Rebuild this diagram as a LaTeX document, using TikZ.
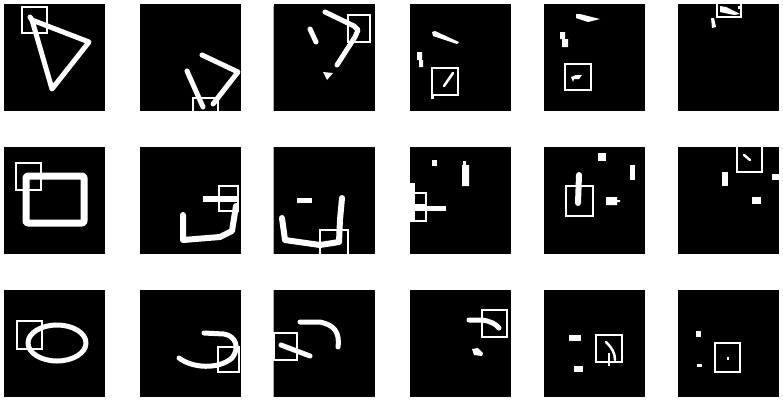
\documentclass[tikz,border=0pt]{standalone}
\tikzset{
  panel/.style={fill=black},
  pen/.style={draw=white,line width=5pt,line cap=round,line join=round},
  thinpen/.style={draw=white,line width=2.5pt,line cap=round,line join=round},
  roi/.style={draw=white,line width=1.2pt},
  edge/.style={draw=gray!60,line width=0.6pt},
}
\begin{document}
\begin{tikzpicture}[x=1pt,y=-1pt]
\useasboundingbox[fill=white] (0,0) rectangle (783,400);
\foreach \c in {4,140,274,410,544,678}
  \foreach \r in {4,147,290}
    \fill[panel] (\c,\r) rectangle ++(101,107);

\begin{scope}[shift={(4,4)}]
\draw[pen] (26,13) -- (28,16) -- (85,38) -- (48,85) -- (28,16);
\draw[roi] (18,3) rectangle (43,29);
\end{scope}

\begin{scope}[shift={(140,4)}]
\draw[pen] (62,51) -- (98,68) -- (73,100);
\draw[pen] (47,67) -- (63,103);
\draw[roi] (53,107) |- (78,94) -- (78,107);
\end{scope}

\begin{scope}[shift={(274,4)}]
\draw[edge] (-1,2) -- (-1,107);
\draw[pen] (51,8) -- (80,22) -- (84,26) -- (81,33) -- (63,61);
\draw[pen] (36,25) -- (42,38);
\fill[white] (49,68) -- (59,69) -- (53,76) -- cycle;
\draw[roi] (74,11) rectangle (96,38);
\end{scope}

\begin{scope}[shift={(410,4)}]
\fill[white] (22,28) -- (25,27) -- (49,38) -- (47,40) -- (23,32) -- cycle;
\fill[white] (7,48) rectangle (12,56) (9,56) rectangle (13,63);
\draw[roi] (22,64) rectangle (48,91);
\draw[thinpen] (34,82) -- (43,69);
\fill[white] (21,92) rectangle (24,95);
\end{scope}

\begin{scope}[shift={(544,4)}]
\fill[white] (32,10) -- (36,10) -- (56,15) -- (44,18) -- (32,14) -- cycle;
\fill[white] (16,28) rectangle (21,35) (18,35) rectangle (24,43);
\draw[roi] (21,60) rectangle (47,86);
\fill[white] (27,73) -- (32,71) -- (38,71) -- (35,75) -- (30,75) -- (29,78) -- cycle;
\end{scope}

\begin{scope}[shift={(678,4)}]
\draw[roi] (39,0) -- (39,13) -- (63,13) -- (63,0);
\fill[white] (42,2) -- (48,3) -- (62,10) -- (56,11) -- (42,8) -- cycle;
\fill[white] (60,2) rectangle (63,5);
\fill[white] (33,14) -- (36,14) -- (38,23) -- (34,24) -- cycle;
\end{scope}

\begin{scope}[shift={(4,147)}]
\draw[pen,line width=7pt,rounded corners=2pt] (22,29) rectangle (80,76);
\draw[roi] (12,16) rectangle (37,43);
\end{scope}

\begin{scope}[shift={(140,147)}]
\draw[pen,line width=6pt] (43,68) -- (43,93) -- (80,90) -- (92,84) -- (96,59);
\fill[white] (63,49) rectangle (99,55);
\draw[roi] (79,39) rectangle (98,64);
\end{scope}

\begin{scope}[shift={(274,147)}]
\draw[edge] (-1,0) -- (-1,107);
\draw[pen,line width=6pt] (8,71) -- (11,93) -- (46,98) -- (65,95) -- (66,73) -- (68,51);
\fill[white] (23,51) rectangle (38,56);
\draw[roi] (46,107) |- (74,83) -- (74,107);
\end{scope}

\begin{scope}[shift={(410,147)}]
\fill[white] (22,13) rectangle (27,19);
\fill[white] (52,18) rectangle (59,39) (53,14) rectangle (56,18);
\fill[white] (0,36) rectangle (5,73);
\fill[white] (5,59) rectangle (36,64);
\draw[roi] (0,46) rectangle (16,58);
\draw[roi] (0,63) rectangle (16,74);
\end{scope}

\begin{scope}[shift={(544,147)}]
\fill[white] (54,6) rectangle (62,14);
\fill[white] (86,18) rectangle (91,33);
\draw[pen,line width=6pt] (35,28) -- (34,56);
\draw[roi] (22,39) rectangle (49,69);
\fill[white] (62,50) rectangle (73,58) (73,53) rectangle (76,55);
\end{scope}

\begin{scope}[shift={(678,147)}]
\draw[roi] (59,0) -- (59,25) -- (84,25) -- (84,0);
\draw[thinpen] (66,8) -- (72,13);
\fill[white] (44,25) rectangle (50,39);
\fill[white] (94,27) rectangle (101,33);
\fill[white] (74,50) rectangle (83,57);
\end{scope}

\begin{scope}[shift={(4,290)}]
\draw[pen] (53,53) ellipse (29 and 18);
\draw[roi] (13,31) rectangle (38,59);
\end{scope}

\begin{scope}[shift={(140,290)}]
\draw[pen] (39,68) .. controls (52,78) and (78,80) .. (92,68) .. controls (100,58) and (96,46) .. (84,44) -- (64,43);
\draw[roi] (78,57) rectangle (99,82);
\end{scope}

\begin{scope}[shift={(274,290)}]
\draw[edge] (-1,0) -- (-1,107);
\draw[pen] (26,32) -- (46,32) .. controls (60,35) and (66,42) .. (64,57);
\draw[pen] (7,55) -- (36,66);
\draw[roi] (0,43) rectangle (23,70);
\end{scope}

\begin{scope}[shift={(410,290)}]
\draw[pen] (59,30) -- (72,30) .. controls (80,31) and (86,34) .. (89,38);
\draw[roi] (72,20) rectangle (97,47);
\fill[white] (62,59) -- (68,58) -- (73,63) -- (72,66) -- (64,65) -- cycle;
\end{scope}

\begin{scope}[shift={(544,290)}]
\fill[white] (25,45) rectangle (37,51);
\fill[white] (30,76) rectangle (39,82);
\draw[roi] (52,45) rectangle (78,72);
\draw[thinpen] (62,52) .. controls (68,58) and (71,63) .. (71,70);
\draw[roi] (65,63) -- (65,76);
\end{scope}

\begin{scope}[shift={(678,290)}]
\fill[white] (18,41) rectangle (23,47);
\fill[white] (19,74) rectangle (24,77);
\draw[white,line width=2.5pt] (37,53) rectangle (62,82);
\fill[white] (49,67) rectangle (51,70);
\end{scope}
\end{tikzpicture}
\end{document}
